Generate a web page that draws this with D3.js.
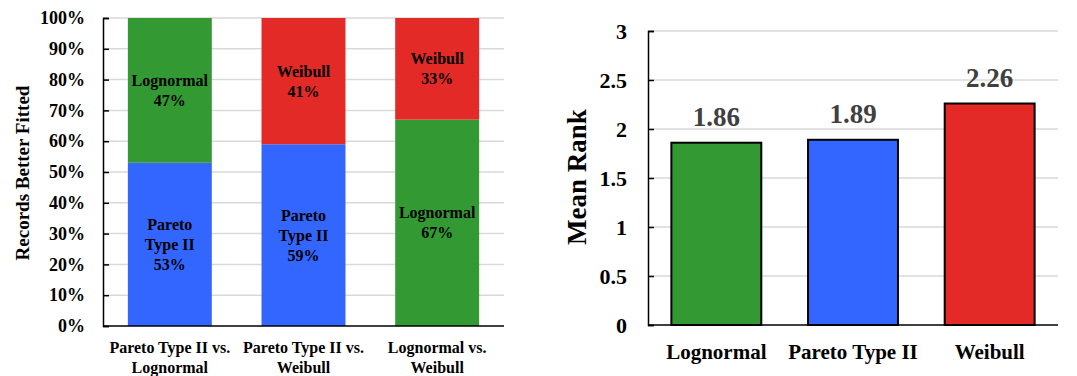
<!DOCTYPE html>
<html><head><meta charset="utf-8">
<script src="https://cdn.jsdelivr.net/npm/d3@7"></script>
<style>body{margin:0;background:#fff}svg{display:block}text{font-family:"Liberation Serif","Times New Roman",serif;font-weight:bold}</style>
</head><body><svg id="c" width="1077" height="376"></svg>
<script>
// Left chart data
const pairCategories = [["Pareto Type II vs.","Lognormal"],["Pareto Type II vs.","Weibull"],["Lognormal vs.","Weibull"]];
const lowerNames = [["Pareto","Type II"],["Pareto","Type II"],["Lognormal"]];
const lowerValues = [53, 59, 67];
const upperNames = [["Lognormal"],["Weibull"],["Weibull"]];
const upperValues = [47, 41, 33];
const lowerDist = ["Pareto","Pareto","Lognormal"];
const upperDist = ["Lognormal","Weibull","Weibull"];
const pctTicks = [0,10,20,30,40,50,60,70,80,90,100];
// Right chart data
const rankCategories = ["Lognormal","Pareto Type II","Weibull"];
const rankValues = [1.86, 1.89, 2.26];
const rankDist = ["Lognormal","Pareto","Weibull"];
const rankTicks = [0,0.5,1,1.5,2,2.5,3];

const colors = {Lognormal:"#339933", Pareto:"#3366FF", Weibull:"#E32A26"};
const svg = d3.select("#c");

// ---------- Left chart ----------
const L = {x0:103, x1:504, y0:326, y1:18};
const xL = d3.scaleBand().domain(d3.range(3)).range([L.x0, L.x1]).paddingInner(0.372).paddingOuter(0.186);
const yL = d3.scaleLinear().domain([0,100]).range([L.y0, L.y1]);
const gL = svg.append("g");
gL.selectAll("line.grid").data(pctTicks.slice(1)).join("line")
  .attr("x1", L.x0).attr("x2", L.x1).attr("y1", d=>yL(d)).attr("y2", d=>yL(d))
  .attr("stroke","#d9d9d9").attr("stroke-width",1.5);
const leftSegs = [];
d3.range(3).forEach(i=>{
  leftSegs.push({i, lo:0, hi:lowerValues[i], c:colors[lowerDist[i]], names:lowerNames[i], v:lowerValues[i]});
  leftSegs.push({i, lo:lowerValues[i], hi:100, c:colors[upperDist[i]], names:upperNames[i], v:upperValues[i]});
});
gL.selectAll("rect").data(leftSegs).join("rect")
  .attr("x", d=>xL(d.i)).attr("width", xL.bandwidth())
  .attr("y", d=>yL(d.hi)).attr("height", d=>yL(d.lo)-yL(d.hi)).attr("fill", d=>d.c);
leftSegs.forEach(d=>{
  const lines = d.names.concat([d.v+"%"]);
  const cy = yL((d.lo+d.hi)/2);
  const t = gL.append("text").attr("text-anchor","middle").attr("font-size",16).attr("fill","#000");
  lines.forEach((s,k)=>{
    t.append("tspan").attr("x", xL(d.i)+xL.bandwidth()/2)
     .attr("y", cy + (k-(lines.length-1)/2)*20).attr("dy","0.35em").text(s);
  });
});
const axL = gL.append("g").attr("transform",`translate(${L.x0},0)`)
  .call(d3.axisLeft(yL).tickValues(pctTicks).tickFormat(d=>d+"%").tickSize(-6).tickPadding(18));
axL.attr("font-family",null).attr("font-size",null);
axL.select(".domain").attr("stroke","#000").attr("stroke-width",1.5);
axL.selectAll(".tick line").attr("stroke","#000").attr("stroke-width",1.5);
axL.selectAll(".tick text").attr("font-size",18).attr("fill","#000");
gL.append("line").attr("x1",L.x0).attr("x2",L.x1).attr("y1",L.y0).attr("y2",L.y0).attr("stroke","#000").attr("stroke-width",1.5);
pairCategories.forEach((c,i)=>{
  const t = gL.append("text").attr("text-anchor","middle").attr("font-size",16).attr("fill","#000");
  c.forEach((s,k)=>t.append("tspan").attr("x", xL(i)+xL.bandwidth()/2).attr("y", 347+k*20).attr("dy","0.35em").text(s));
});
gL.append("text").attr("transform","translate(22,173) rotate(-90)").attr("text-anchor","middle")
  .attr("dy","0.35em").attr("font-size",19).attr("fill","#000").text("Records Better Fitted");

// ---------- Right chart ----------
const R = {x0:648, x1:1058, y0:325, y1:31};
const xR = d3.scaleBand().domain(rankCategories).range([R.x0, R.x1]).paddingInner(0.342).paddingOuter(0.171);
const yR = d3.scaleLinear().domain([0,3]).range([R.y0, R.y1]);
const gR = svg.append("g");
gR.selectAll("line.grid").data(rankTicks.slice(1)).join("line")
  .attr("x1", R.x0).attr("x2", R.x1).attr("y1", d=>yR(d)).attr("y2", d=>yR(d))
  .attr("stroke","#d9d9d9").attr("stroke-width",1.5);
gR.selectAll("rect").data(rankCategories).join("rect")
  .attr("x", d=>xR(d)).attr("width", xR.bandwidth())
  .attr("y", (d,i)=>yR(rankValues[i])).attr("height", (d,i)=>yR(0)-yR(rankValues[i]))
  .attr("fill", (d,i)=>colors[rankDist[i]]).attr("stroke","#000").attr("stroke-width",2);
gR.selectAll("text.val").data(rankCategories).join("text")
  .attr("x", d=>xR(d)+xR.bandwidth()/2).attr("y",(d,i)=>yR(rankValues[i])-26).attr("dy","0.35em")
  .attr("text-anchor","middle").attr("font-size",27).attr("fill","#404040").text((d,i)=>rankValues[i].toFixed(2));
const axR = gR.append("g").attr("transform",`translate(${R.x0},0)`)
  .call(d3.axisLeft(yR).tickValues(rankTicks).tickFormat(d3.format("")).tickSize(-6).tickPadding(21));
axR.attr("font-family",null).attr("font-size",null);
axR.select(".domain").attr("stroke","#000").attr("stroke-width",1.5);
axR.selectAll(".tick line").attr("stroke","#000").attr("stroke-width",1.5);
axR.selectAll(".tick text").attr("font-size",22).attr("fill","#000");
gR.append("line").attr("x1",R.x0).attr("x2",R.x1).attr("y1",R.y0).attr("y2",R.y0).attr("stroke","#000").attr("stroke-width",1.5);
gR.selectAll("text.cat").data(rankCategories).join("text")
  .attr("x", d=>xR(d)+xR.bandwidth()/2).attr("y",352).attr("dy","0.35em")
  .attr("text-anchor","middle").attr("font-size",21).attr("fill","#000").text(d=>d);
gR.append("text").attr("transform","translate(577,177) rotate(-90)").attr("text-anchor","middle")
  .attr("dy","0.35em").attr("font-size",27).attr("fill","#000").text("Mean Rank");
</script></body></html>
